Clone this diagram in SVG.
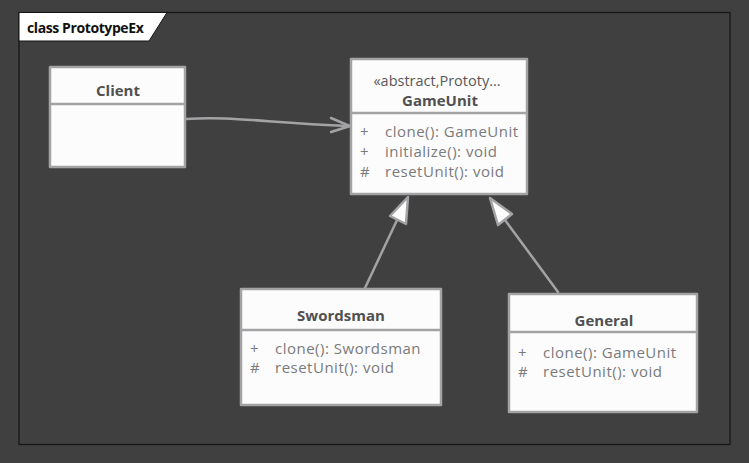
<svg xmlns="http://www.w3.org/2000/svg" width="749" height="463" viewBox="0 0 749 463">
<style>
.box{fill:#fcfcfd;stroke:#a3a3a6;stroke-width:2.5;stroke-linejoin:round}
.div{stroke:#a3a3a6;stroke-width:2.5;fill:none}
.name{font-family:"Open Sans","Noto Sans",sans-serif;font-weight:bold;font-size:15px;fill:#505050;text-anchor:middle}
.ster{font-family:"Open Sans","Noto Sans",sans-serif;font-size:14.5px;fill:#585858;text-anchor:middle}
.att{font-family:"Open Sans","Noto Sans",sans-serif;font-size:15px;fill:#7a7a7a;letter-spacing:0.5px}
.con{stroke:#a3a3a6;stroke-width:2.5;fill:none;stroke-linecap:round}
.tri{fill:#fcfcfd;stroke:#a3a3a6;stroke-width:2.5;stroke-linejoin:round}
</style>
<rect x="0" y="0" width="749" height="463" fill="#404040"/>
<g id="frame">
<rect x="19" y="12.5" width="711" height="432" fill="none" stroke="#151515" stroke-width="1.2"/>
<polygon points="19,12.5 167,12.5 149,41 19,41" fill="#ffffff" stroke="#151515" stroke-width="1"/>
<text x="27" y="33" font-family="'Open Sans','Noto Sans',sans-serif" font-weight="bold" font-size="14" fill="#111" letter-spacing="-0.4">class PrototypeEx</text>
</g>
<g id="connectors">
<path class="con" d="M186,119 C230,116 260,122 349,126"/>
<path class="con" d="M331,118 L350,126 L331,132"/>
<path class="con" d="M365,288 L398,218"/>
<polygon class="tri" points="408,197 406,224 390,216"/>
<path class="con" d="M558,292 L505,220"/>
<polygon class="tri" points="490,198 512,214 498,225"/>
</g>
<g id="client">
<rect class="box" x="50" y="67" width="135" height="100"/>
<line class="div" x1="50" y1="104" x2="185" y2="104"/>
<text class="name" x="118" y="96">Client</text>
</g>
<g id="gameunit">
<rect class="box" x="351" y="59" width="176" height="135"/>
<line class="div" x1="351" y1="113" x2="527" y2="113"/>
<text class="ster" x="437" y="86">«abstract,Prototy...</text>
<text class="name" x="440" y="106">GameUnit</text>
<text class="att" x="360" y="137">+</text><text class="att" x="385" y="137">clone(): GameUnit</text>
<text class="att" x="360" y="157">+</text><text class="att" x="385" y="157">initialize(): void</text>
<text class="att" x="360" y="177">#</text><text class="att" x="385" y="177">resetUnit(): void</text>
</g>
<g id="swordsman">
<rect class="box" x="241" y="289" width="200" height="116"/>
<line class="div" x1="241" y1="330" x2="441" y2="330"/>
<text class="name" x="341" y="321">Swordsman</text>
<text class="att" x="250" y="354">+</text><text class="att" x="275" y="354">clone(): Swordsman</text>
<text class="att" x="250" y="373">#</text><text class="att" x="275" y="373">resetUnit(): void</text>
</g>
<g id="general">
<rect class="box" x="509" y="294" width="188" height="118"/>
<line class="div" x1="509" y1="332" x2="697" y2="332"/>
<text class="name" x="604" y="326">General</text>
<text class="att" x="518" y="358">+</text><text class="att" x="543" y="358">clone(): GameUnit</text>
<text class="att" x="518" y="377">#</text><text class="att" x="543" y="377">resetUnit(): void</text>
</g>
</svg>
